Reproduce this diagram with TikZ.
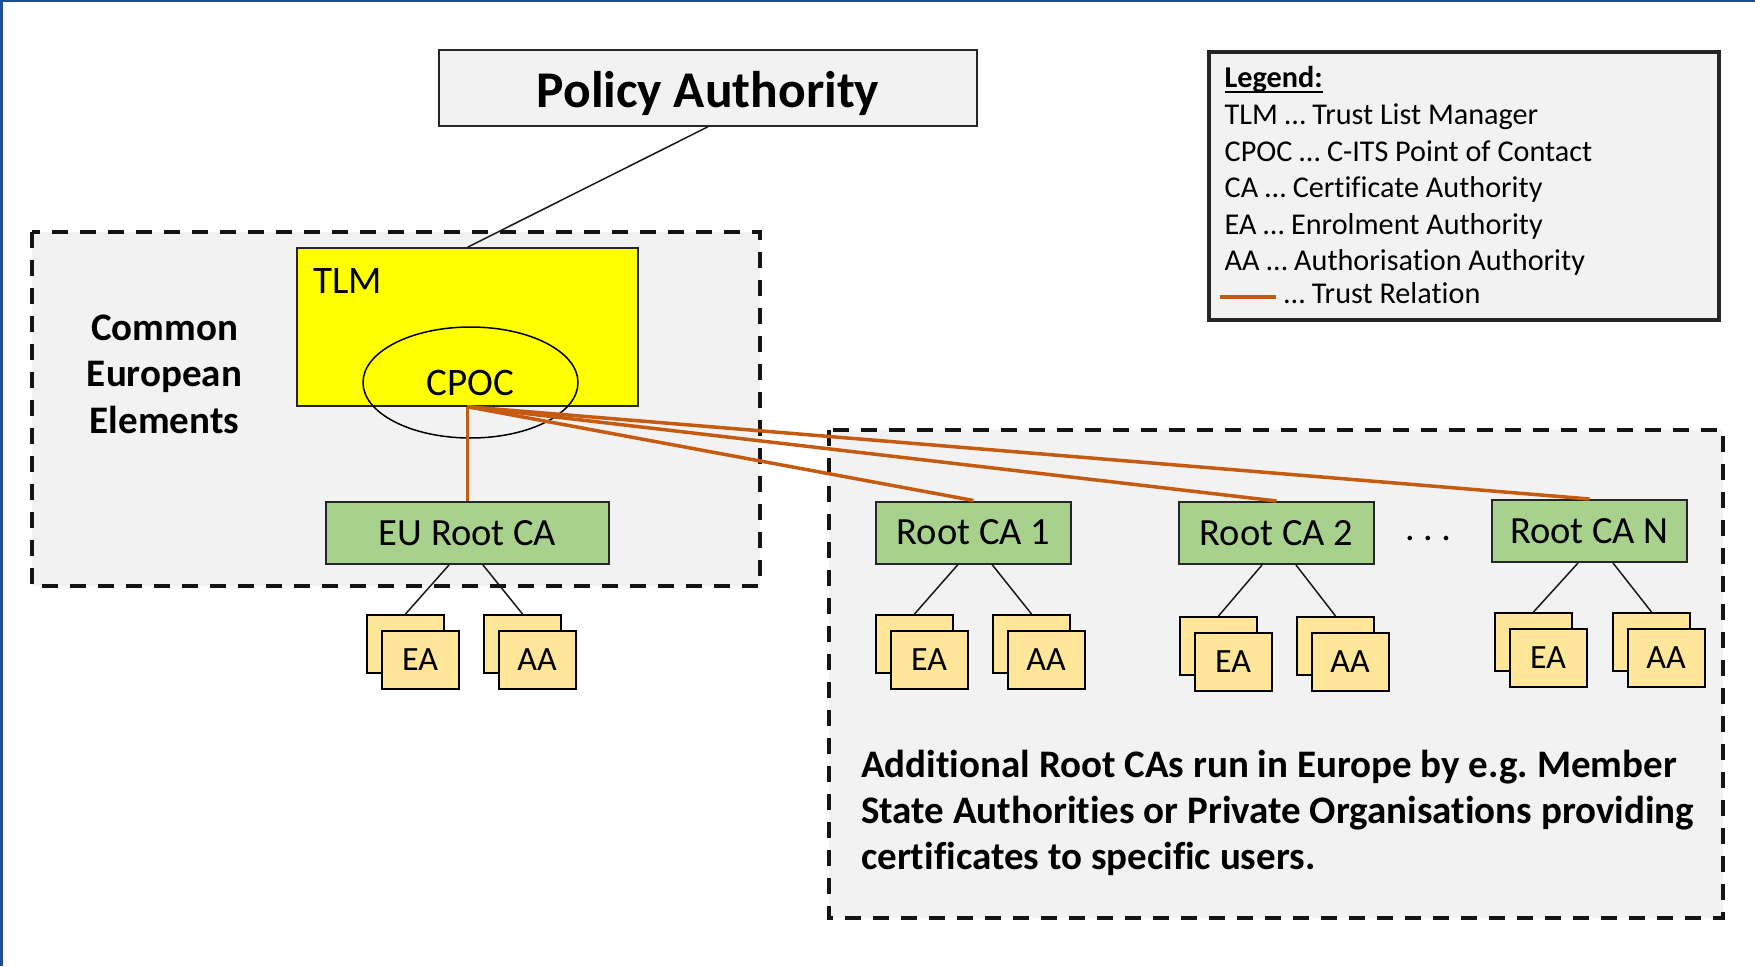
\documentclass[tikz,border=0pt]{standalone}
\usepackage{fontspec}
\setmainfont{Carlito}[Ligatures=NoCommon]
\usetikzlibrary{shapes.geometric}

\definecolor{panelgrey}{HTML}{F2F2F2}
\definecolor{tlmyellow}{HTML}{FFFF00}
\definecolor{cagreen}{HTML}{A9D18E}
\definecolor{subfill}{HTML}{FFE699}
\definecolor{trustorange}{HTML}{C55A11}
\definecolor{edgeblue}{HTML}{1F4E96}
\definecolor{ink}{HTML}{262626}

\begin{document}
\frenchspacing
\begin{tikzpicture}[x=1pt,y=-1pt,
  region/.style={draw=black!92, fill=panelgrey, line width=3.6pt, dash pattern=on 16pt off 12pt},
  rootbox/.style={draw=ink, fill=cagreen, line width=2pt, minimum height=62pt,
    inner sep=0pt, font=\fontsize{38.5}{46}\selectfont},
  subbox/.style={draw=black, fill=subfill, line width=2pt, minimum width=77pt,
    minimum height=58pt, inner sep=0pt, anchor=north west, font=\fontsize{34}{40}\selectfont},
  link/.style={draw=black!90, line width=1.5pt},
  trust/.style={draw=trustorange, line width=3.5pt},
  boldtext/.style={inner sep=0pt, font=\fontsize{39}{46.5}\selectfont\bfseries},
  legtext/.style={inner sep=0pt, anchor=base west, font=\fontsize{30.2}{36.5}\selectfont},
]
% canvas
\useasboundingbox (0,0) rectangle (1755,966);
\fill[white] (0,0) rectangle (1755,966);
\fill[edgeblue] (0,0) rectangle (3,966);
\fill[edgeblue] (0,0) rectangle (1755,2);

% dashed regions
\draw[region] (32,232) rectangle (760,586);
\draw[region] (829,430) rectangle (1723,918);

% policy authority
\node[draw=ink, fill=panelgrey, line width=1.5pt, minimum width=538pt, minimum height=76pt,
  inner sep=0pt, text height=38pt, text depth=0pt,
  font=\fontsize{51.5}{60}\selectfont\bfseries] (policy) at (708,88) {Policy Authority};

% legend
\node[draw=ink, fill=panelgrey, line width=3.8pt, minimum width=510pt, minimum height=268pt,
  inner sep=0pt, anchor=north west] (legend) at (1207,50) {};
\node[legtext, font=\fontsize{30.2}{36.5}\selectfont\bfseries] (legtitle) at (1224.5,88) {Legend:};
\draw[line width=1.8pt] ([yshift=-4pt]legtitle.base west) -- ([yshift=-4pt]legtitle.base east);
\node[legtext] (leg1) at (1224.5,124.5) {TLM … Trust List Manager};
\node[legtext] (leg2) at (1224.5,161) {CPOC … C-ITS Point of Contact};
\node[legtext] (leg3) at (1224.5,197.5) {CA … Certificate Authority};
\node[legtext] (leg4) at (1224.5,234) {EA … Enrolment Authority};
\node[legtext] (leg5) at (1224.5,270.5) {AA … Authorisation Authority};
\node[legtext] (leg6) at (1284,303) {… Trust Relation};
\coordinate (sampleA) at (1220,297);
\coordinate (sampleB) at (1276,297);
\draw[trust, line width=4pt] (sampleA) -- (sampleB);

% common european elements
\node[boldtext, anchor=base] (cee1) at (164.5,340) {Common};
\node[boldtext, anchor=base] (cee2) at (164.5,386.5) {European};
\node[boldtext, anchor=base] (cee3) at (164.5,433) {Elements};

% trust list manager with its point of contact
\node[draw=ink, fill=tlmyellow, line width=1.5pt, minimum width=341pt, minimum height=158pt,
  inner sep=0pt] (tlm) at (467.5,327) {};
\node[inner sep=0pt, anchor=base west, font=\fontsize{39}{46}\selectfont] (tlmlabel) at (313,293) {TLM};
\node[draw=black, line width=1.5pt, ellipse, minimum width=215pt, minimum height=111pt,
  inner sep=0pt, font=\fontsize{39}{46}\selectfont] (cpoc) at (470.5,382.5) {CPOC};

% root certificate authorities
\node[rootbox, minimum width=283pt] (eu) at (467.5,533) {EU Root CA};
\node[rootbox, minimum width=195pt] (r1) at (973.5,532.5) {Root CA 1};
\node[rootbox, minimum width=195pt] (r2) at (1276.5,533) {Root CA 2};
\node[rootbox, minimum width=195pt] (rN) at (1589.5,531) {Root CA N};
\node[inner sep=0pt, anchor=base, font=\fontsize{38}{46}\selectfont] (dots) at (1428,540) {. . .};

% enrolment and authorisation authority stacks
\foreach \n/\x/\y/\t in {euEA/366/614/EA, euAA/483/614/AA,
    r1EA/875/614/EA, r1AA/992/614/AA,
    r2EA/1179/616/EA, r2AA/1296/616/AA,
    rNEA/1494/612/EA, rNAA/1612/612/AA} {
  \node[subbox] (\n b) at (\x,\y) {};
  \node[subbox] (\n) at (\x+14.5,\y+16) {\t};
}

\draw[link] ([xshift=-18.5pt]eu.south) -- (euEAb.north);
\draw[link] ([xshift=15.5pt]eu.south) -- (euAAb.north);
\draw[link] ([xshift=-15.5pt]r1.south) -- (r1EAb.north);
\draw[link] ([xshift=18.5pt]r1.south) -- (r1AAb.north);
\draw[link] ([xshift=-14.5pt]r2.south) -- (r2EAb.north);
\draw[link] ([xshift=19.5pt]r2.south) -- (r2AAb.north);
\draw[link] ([xshift=-11.5pt]rN.south) -- (rNEAb.north);
\draw[link] ([xshift=23.5pt]rN.south) -- (rNAAb.north);

% policy link
\draw[link] (policy.south) -- (tlm.north);

% trust relations
\draw[trust] (tlm.south) -- (eu.north);
\draw[trust] (tlm.south) -- (r1.north);
\draw[trust] (tlm.south) -- (r2.north);
\draw[trust] (tlm.south) -- (rN.north);

% additional root CAs note
\node[boldtext, anchor=base west] (note1) at (861,777) {Additional Root CAs run in Europe by e.g. Member};
\node[boldtext, anchor=base west] (note2) at (861,823) {State Authorities or Private Organisations providing};
\node[boldtext, anchor=base west] (note3) at (861,869) {certificates to specific users.};
\end{tikzpicture}
\end{document}
